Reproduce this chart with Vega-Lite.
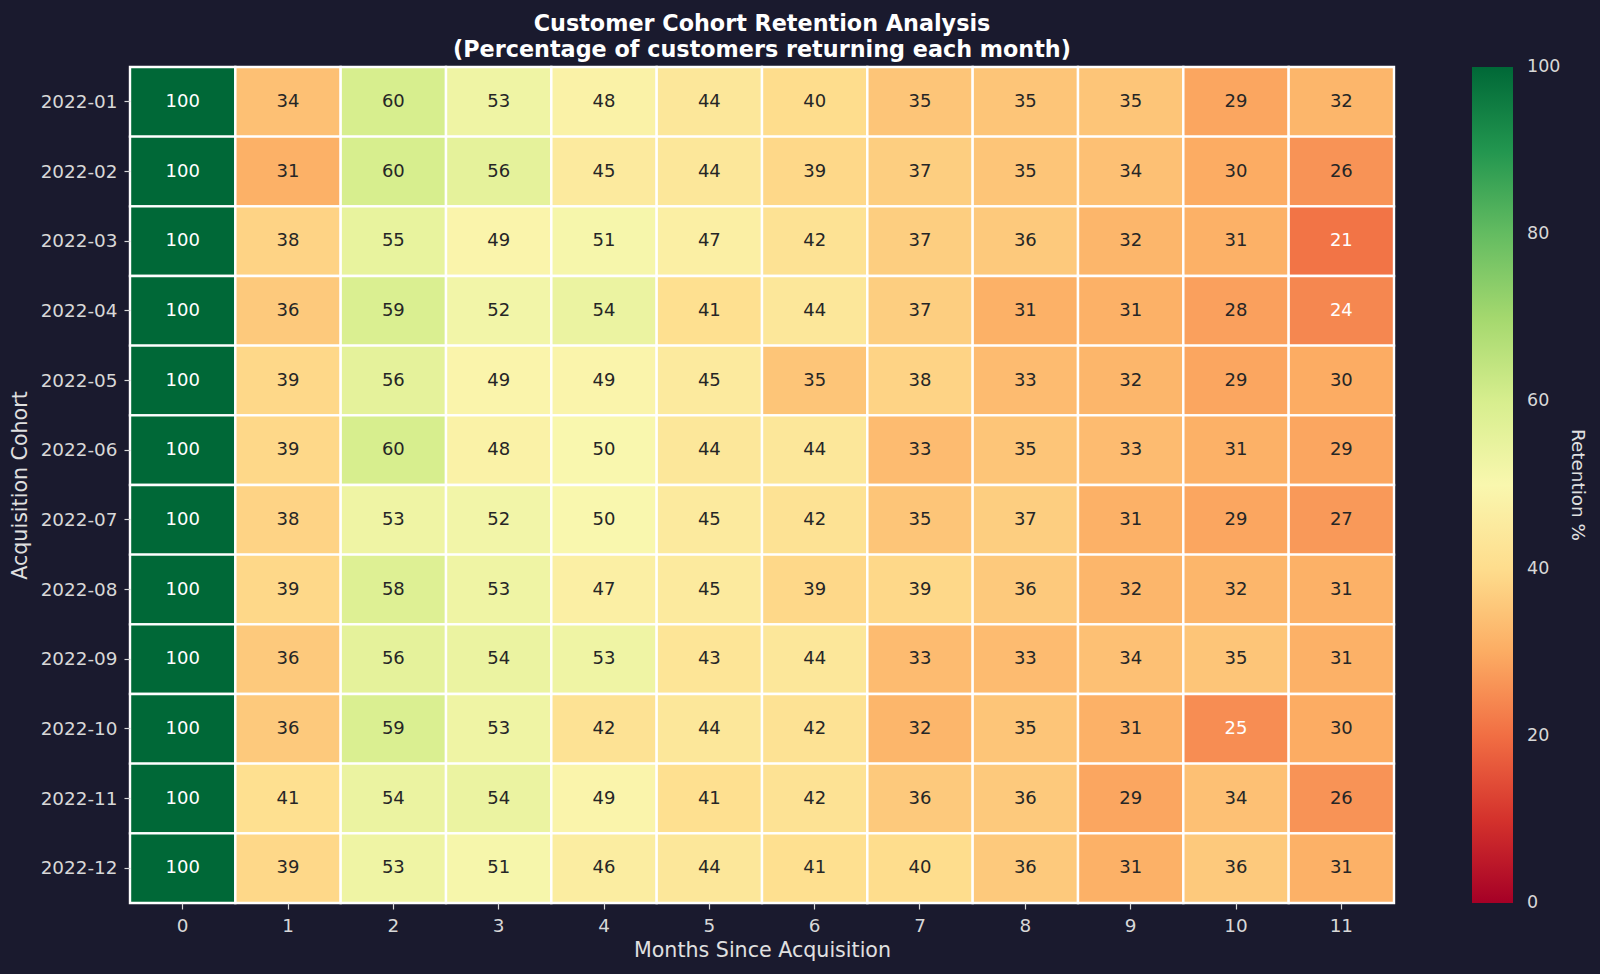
{
  "$schema": "https://vega.github.io/schema/vega-lite/v6.json",
  "autosize": {"type": "none"},
  "padding": {"left": 130, "top": 67, "right": 206, "bottom": 71},
  "width": 1264,
  "height": 836,
  "background": "#1a1a2e",
  "config": {
    "view": {"stroke": null},
    "font": "DejaVu Sans",
    "axis": {
      "labelColor": "#d8d8d8",
      "titleColor": "#e0e0e0",
      "tickColor": "#d8d8d8",
      "labelFont": "DejaVu Sans",
      "titleFont": "DejaVu Sans",
      "labelFontSize": 18.4,
      "titleFontSize": 20.6,
      "titleFontWeight": "normal",
      "domain": false,
      "grid": false,
      "tickSize": 6,
      "tickWidth": 1.2
    },
    "legend": {
      "labelColor": "#d8d8d8",
      "titleColor": "#e0e0e0",
      "labelFont": "DejaVu Sans",
      "titleFont": "DejaVu Sans"
    }
  },
  "title": {
    "text": ["Customer Cohort Retention Analysis", "(Percentage of customers returning each month)"],
    "color": "#ffffff",
    "font": "DejaVu Sans",
    "fontSize": 22.3,
    "fontWeight": "bold",
    "anchor": "middle",
    "offset": 5,
    "lineHeight": 26
  },
  "data": {
    "values": [
      {"cohort": "2022-01", "month": 0, "value": 100}, {"cohort": "2022-01", "month": 1, "value": 34}, {"cohort": "2022-01", "month": 2, "value": 60}, {"cohort": "2022-01", "month": 3, "value": 53}, {"cohort": "2022-01", "month": 4, "value": 48}, {"cohort": "2022-01", "month": 5, "value": 44}, {"cohort": "2022-01", "month": 6, "value": 40}, {"cohort": "2022-01", "month": 7, "value": 35}, {"cohort": "2022-01", "month": 8, "value": 35}, {"cohort": "2022-01", "month": 9, "value": 35}, {"cohort": "2022-01", "month": 10, "value": 29}, {"cohort": "2022-01", "month": 11, "value": 32},
      {"cohort": "2022-02", "month": 0, "value": 100}, {"cohort": "2022-02", "month": 1, "value": 31}, {"cohort": "2022-02", "month": 2, "value": 60}, {"cohort": "2022-02", "month": 3, "value": 56}, {"cohort": "2022-02", "month": 4, "value": 45}, {"cohort": "2022-02", "month": 5, "value": 44}, {"cohort": "2022-02", "month": 6, "value": 39}, {"cohort": "2022-02", "month": 7, "value": 37}, {"cohort": "2022-02", "month": 8, "value": 35}, {"cohort": "2022-02", "month": 9, "value": 34}, {"cohort": "2022-02", "month": 10, "value": 30}, {"cohort": "2022-02", "month": 11, "value": 26},
      {"cohort": "2022-03", "month": 0, "value": 100}, {"cohort": "2022-03", "month": 1, "value": 38}, {"cohort": "2022-03", "month": 2, "value": 55}, {"cohort": "2022-03", "month": 3, "value": 49}, {"cohort": "2022-03", "month": 4, "value": 51}, {"cohort": "2022-03", "month": 5, "value": 47}, {"cohort": "2022-03", "month": 6, "value": 42}, {"cohort": "2022-03", "month": 7, "value": 37}, {"cohort": "2022-03", "month": 8, "value": 36}, {"cohort": "2022-03", "month": 9, "value": 32}, {"cohort": "2022-03", "month": 10, "value": 31}, {"cohort": "2022-03", "month": 11, "value": 21},
      {"cohort": "2022-04", "month": 0, "value": 100}, {"cohort": "2022-04", "month": 1, "value": 36}, {"cohort": "2022-04", "month": 2, "value": 59}, {"cohort": "2022-04", "month": 3, "value": 52}, {"cohort": "2022-04", "month": 4, "value": 54}, {"cohort": "2022-04", "month": 5, "value": 41}, {"cohort": "2022-04", "month": 6, "value": 44}, {"cohort": "2022-04", "month": 7, "value": 37}, {"cohort": "2022-04", "month": 8, "value": 31}, {"cohort": "2022-04", "month": 9, "value": 31}, {"cohort": "2022-04", "month": 10, "value": 28}, {"cohort": "2022-04", "month": 11, "value": 24},
      {"cohort": "2022-05", "month": 0, "value": 100}, {"cohort": "2022-05", "month": 1, "value": 39}, {"cohort": "2022-05", "month": 2, "value": 56}, {"cohort": "2022-05", "month": 3, "value": 49}, {"cohort": "2022-05", "month": 4, "value": 49}, {"cohort": "2022-05", "month": 5, "value": 45}, {"cohort": "2022-05", "month": 6, "value": 35}, {"cohort": "2022-05", "month": 7, "value": 38}, {"cohort": "2022-05", "month": 8, "value": 33}, {"cohort": "2022-05", "month": 9, "value": 32}, {"cohort": "2022-05", "month": 10, "value": 29}, {"cohort": "2022-05", "month": 11, "value": 30},
      {"cohort": "2022-06", "month": 0, "value": 100}, {"cohort": "2022-06", "month": 1, "value": 39}, {"cohort": "2022-06", "month": 2, "value": 60}, {"cohort": "2022-06", "month": 3, "value": 48}, {"cohort": "2022-06", "month": 4, "value": 50}, {"cohort": "2022-06", "month": 5, "value": 44}, {"cohort": "2022-06", "month": 6, "value": 44}, {"cohort": "2022-06", "month": 7, "value": 33}, {"cohort": "2022-06", "month": 8, "value": 35}, {"cohort": "2022-06", "month": 9, "value": 33}, {"cohort": "2022-06", "month": 10, "value": 31}, {"cohort": "2022-06", "month": 11, "value": 29},
      {"cohort": "2022-07", "month": 0, "value": 100}, {"cohort": "2022-07", "month": 1, "value": 38}, {"cohort": "2022-07", "month": 2, "value": 53}, {"cohort": "2022-07", "month": 3, "value": 52}, {"cohort": "2022-07", "month": 4, "value": 50}, {"cohort": "2022-07", "month": 5, "value": 45}, {"cohort": "2022-07", "month": 6, "value": 42}, {"cohort": "2022-07", "month": 7, "value": 35}, {"cohort": "2022-07", "month": 8, "value": 37}, {"cohort": "2022-07", "month": 9, "value": 31}, {"cohort": "2022-07", "month": 10, "value": 29}, {"cohort": "2022-07", "month": 11, "value": 27},
      {"cohort": "2022-08", "month": 0, "value": 100}, {"cohort": "2022-08", "month": 1, "value": 39}, {"cohort": "2022-08", "month": 2, "value": 58}, {"cohort": "2022-08", "month": 3, "value": 53}, {"cohort": "2022-08", "month": 4, "value": 47}, {"cohort": "2022-08", "month": 5, "value": 45}, {"cohort": "2022-08", "month": 6, "value": 39}, {"cohort": "2022-08", "month": 7, "value": 39}, {"cohort": "2022-08", "month": 8, "value": 36}, {"cohort": "2022-08", "month": 9, "value": 32}, {"cohort": "2022-08", "month": 10, "value": 32}, {"cohort": "2022-08", "month": 11, "value": 31},
      {"cohort": "2022-09", "month": 0, "value": 100}, {"cohort": "2022-09", "month": 1, "value": 36}, {"cohort": "2022-09", "month": 2, "value": 56}, {"cohort": "2022-09", "month": 3, "value": 54}, {"cohort": "2022-09", "month": 4, "value": 53}, {"cohort": "2022-09", "month": 5, "value": 43}, {"cohort": "2022-09", "month": 6, "value": 44}, {"cohort": "2022-09", "month": 7, "value": 33}, {"cohort": "2022-09", "month": 8, "value": 33}, {"cohort": "2022-09", "month": 9, "value": 34}, {"cohort": "2022-09", "month": 10, "value": 35}, {"cohort": "2022-09", "month": 11, "value": 31},
      {"cohort": "2022-10", "month": 0, "value": 100}, {"cohort": "2022-10", "month": 1, "value": 36}, {"cohort": "2022-10", "month": 2, "value": 59}, {"cohort": "2022-10", "month": 3, "value": 53}, {"cohort": "2022-10", "month": 4, "value": 42}, {"cohort": "2022-10", "month": 5, "value": 44}, {"cohort": "2022-10", "month": 6, "value": 42}, {"cohort": "2022-10", "month": 7, "value": 32}, {"cohort": "2022-10", "month": 8, "value": 35}, {"cohort": "2022-10", "month": 9, "value": 31}, {"cohort": "2022-10", "month": 10, "value": 25}, {"cohort": "2022-10", "month": 11, "value": 30},
      {"cohort": "2022-11", "month": 0, "value": 100}, {"cohort": "2022-11", "month": 1, "value": 41}, {"cohort": "2022-11", "month": 2, "value": 54}, {"cohort": "2022-11", "month": 3, "value": 54}, {"cohort": "2022-11", "month": 4, "value": 49}, {"cohort": "2022-11", "month": 5, "value": 41}, {"cohort": "2022-11", "month": 6, "value": 42}, {"cohort": "2022-11", "month": 7, "value": 36}, {"cohort": "2022-11", "month": 8, "value": 36}, {"cohort": "2022-11", "month": 9, "value": 29}, {"cohort": "2022-11", "month": 10, "value": 34}, {"cohort": "2022-11", "month": 11, "value": 26},
      {"cohort": "2022-12", "month": 0, "value": 100}, {"cohort": "2022-12", "month": 1, "value": 39}, {"cohort": "2022-12", "month": 2, "value": 53}, {"cohort": "2022-12", "month": 3, "value": 51}, {"cohort": "2022-12", "month": 4, "value": 46}, {"cohort": "2022-12", "month": 5, "value": 44}, {"cohort": "2022-12", "month": 6, "value": 41}, {"cohort": "2022-12", "month": 7, "value": 40}, {"cohort": "2022-12", "month": 8, "value": 36}, {"cohort": "2022-12", "month": 9, "value": 31}, {"cohort": "2022-12", "month": 10, "value": 36}, {"cohort": "2022-12", "month": 11, "value": 31}
    ]
  },
  "encoding": {
    "x": {
      "field": "month", "type": "ordinal", "title": "Months Since Acquisition",
      "scale": {"paddingInner": 0, "paddingOuter": 0},
      "axis": {"labelAngle": 0, "titlePadding": 6, "labelPadding": 7}
    },
    "y": {
      "field": "cohort", "type": "ordinal", "title": "Acquisition Cohort",
      "scale": {"paddingInner": 0, "paddingOuter": 0},
      "axis": {"titlePadding": 10, "labelPadding": 7}
    }
  },
  "layer": [
    {
      "mark": {"type": "rect", "stroke": "#ffffff", "strokeWidth": 2.4},
      "encoding": {
        "color": {
          "field": "value", "type": "quantitative",
          "scale": {"scheme": "redyellowgreen", "domain": [0, 100]},
          "legend": {
            "title": "Retention %",
            "orient": "right",
            "offset": 78,
            "padding": 0,
            "gradientLength": 836,
            "gradientThickness": 41,
            "gradientStrokeWidth": 0,
            "values": [0, 20, 40, 60, 80, 100],
            "labelFontSize": 17.5,
            "labelOffset": 14,
            "labelBaseline": "middle",
            "titleFontSize": 18.4,
            "titleFontWeight": "normal",
            "titleOrient": "right",
            "titleAngle": 270,
            "titleAnchor": "middle",
            "titlePadding": 8,
            "encode": {
              "labels": {"update": {"baseline": {"value": "middle"}}}
            }
          }
        }
      }
    },
    {
      "mark": {"type": "text", "fontSize": 18, "font": "DejaVu Sans"},
      "encoding": {
        "text": {"field": "value", "type": "quantitative"},
        "color": {
          "condition": {"test": "datum.value >= 85 || datum.value <= 25", "value": "#ffffff"},
          "value": "#262626"
        }
      }
    }
  ]
}
